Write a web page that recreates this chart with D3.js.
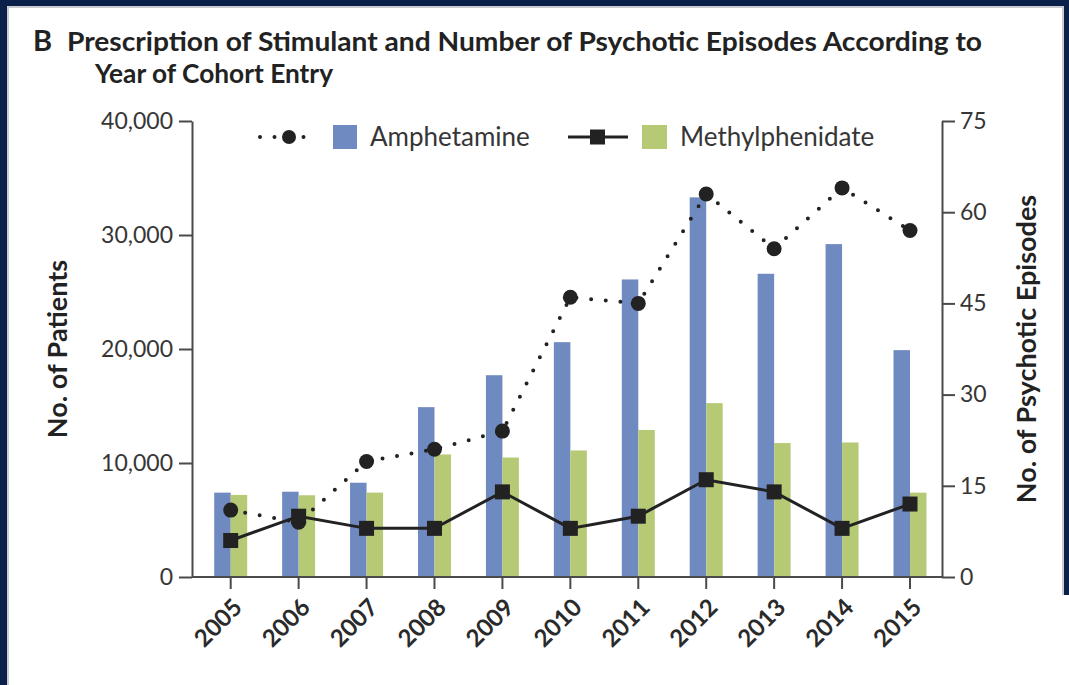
<!DOCTYPE html>
<html>
<head>
<meta charset="utf-8">
<script src="https://cdn.jsdelivr.net/npm/d3@7"></script>
<style>
  body { margin: 0; background: #fff; }
  svg { display: block; }
  text { font-family: Lato, "Open Sans", sans-serif; }
</style>
</head>
<body>
<svg id="chart" width="1069" height="685"></svg>
<script>
// Year of cohort entry
const years = ["2005", "2006", "2007", "2008", "2009", "2010", "2011", "2012", "2013", "2014", "2015"];

// Patients prescribed each stimulant (left axis)
const amphetaminePatients     = [7400, 7480, 8270, 14900, 17700, 20600, 26100, 33300, 26600, 29200, 19900];
const methylphenidatePatients = [7200, 7170, 7400, 10750, 10480, 11100, 12900, 15250, 11750, 11800, 7400];

// Psychotic episodes (right axis)
const amphetamineEpisodes     = [11, 9, 19, 21, 24, 46, 45, 63, 54, 64, 57];
const methylphenidateEpisodes = [6, 10, 8, 8, 14, 8, 10, 16, 14, 8, 12];

// Axis ticks
const patientTicks = [0, 10000, 20000, 30000, 40000];
const episodeTicks = [0, 15, 30, 45, 60, 75];

const titleLines = [
  "Prescription of Stimulant and Number of Psychotic Episodes According to",
  "Year of Cohort Entry"
];
const seriesNames = ["Amphetamine", "Methylphenidate"];

const colors = { amph: "#6f89c1", meth: "#b6ca76", ink: "#222222", axis: "#4a4a4a", label: "#363636", frame: "#0b1f4b" };

const svg = d3.select("#chart");
const W = 1069, H = 685;
const plot = { left: 192, right: 942, top: 121, bottom: 577 };

// Frame around the panel
svg.append("rect").attr("x", 0).attr("y", 0).attr("width", W).attr("height", 6).attr("fill", colors.frame);
svg.append("rect").attr("x", 0).attr("y", 0).attr("width", 7).attr("height", H).attr("fill", colors.frame);
svg.append("rect").attr("x", W - 5).attr("y", 0).attr("width", 5).attr("height", 595).attr("fill", colors.frame);
svg.append("path")
  .attr("d", `M8,${H} V7 H${W - 6} V595`)
  .attr("fill", "none").attr("stroke", "#b9bcc4").attr("stroke-width", 1.5);

// Scales
const x = d3.scalePoint().domain(years).range([230.7, 910]);
const yL = d3.scaleLinear().domain([0, 40000]).range([plot.bottom, plot.top]);
const yR = d3.scaleLinear().domain([0, 75]).range([plot.bottom, plot.top]);
const barW = 16.5;

// Title
svg.append("text").attr("x", 33).attr("y", 51)
  .attr("font-size", 29).attr("font-weight", 700).attr("fill", colors.ink).text("B");
svg.append("text").attr("x", 67).attr("y", 51)
  .attr("font-size", 27).attr("font-weight", 700).attr("fill", colors.ink)
  .attr("textLength", 915).attr("lengthAdjust", "spacingAndGlyphs")
  .text(titleLines[0]);
svg.append("text").attr("x", 95).attr("y", 83)
  .attr("font-size", 27).attr("font-weight", 700).attr("fill", colors.ink)
  .attr("textLength", 238).attr("lengthAdjust", "spacingAndGlyphs")
  .text(titleLines[1]);

// Bars
const bars = svg.append("g");
bars.selectAll("rect.amph").data(years).join("rect")
  .attr("class", "amph")
  .attr("x", d => x(d) - barW)
  .attr("y", (d, i) => yL(amphetaminePatients[i]))
  .attr("width", barW)
  .attr("height", (d, i) => yL(0) - yL(amphetaminePatients[i]))
  .attr("fill", colors.amph);
bars.selectAll("rect.meth").data(years).join("rect")
  .attr("class", "meth")
  .attr("x", d => x(d))
  .attr("y", (d, i) => yL(methylphenidatePatients[i]))
  .attr("width", barW)
  .attr("height", (d, i) => yL(0) - yL(methylphenidatePatients[i]))
  .attr("fill", colors.meth);

// Axes
function styleAxis(g) {
  g.selectAll("path, line").attr("stroke", colors.axis).attr("stroke-width", 2);
  g.selectAll("text").attr("fill", colors.label).attr("font-size", 23)
    .attr("font-family", "Lato, 'Open Sans', sans-serif");
}

svg.append("g").attr("transform", `translate(${plot.left},0)`)
  .call(d3.axisLeft(yL).tickValues(patientTicks).tickFormat(d3.format(",")).tickSize(13).tickSizeOuter(0).tickPadding(6))
  .call(styleAxis);

svg.append("g").attr("transform", `translate(${plot.right},0)`)
  .call(d3.axisRight(yR).tickValues(episodeTicks).tickSize(13).tickSizeOuter(0).tickPadding(5))
  .call(styleAxis);

// Baseline between the two vertical axes, with year ticks
const bottomAxis = svg.append("g").attr("transform", `translate(0,${plot.bottom})`);
bottomAxis.append("line")
  .attr("x1", plot.left).attr("x2", plot.right)
  .attr("stroke", colors.axis).attr("stroke-width", 2);
bottomAxis.selectAll("line.tick").data(years).join("line")
  .attr("class", "tick")
  .attr("x1", d => x(d)).attr("x2", d => x(d))
  .attr("y1", 0).attr("y2", 12)
  .attr("stroke", colors.axis).attr("stroke-width", 2);
bottomAxis.selectAll("text").data(years).join("text")
  .attr("transform", d => `translate(${x(d) + 13},32) rotate(-45)`)
  .attr("text-anchor", "end")
  .attr("font-size", 24).attr("font-weight", 700).attr("fill", "#2a2a2a")
  .text(d => d);

// Axis titles
svg.append("text")
  .attr("transform", `translate(67,${(plot.top + plot.bottom) / 2}) rotate(-90)`)
  .attr("text-anchor", "middle")
  .attr("font-size", 27).attr("font-weight", 700).attr("fill", colors.ink)
  .text("No. of Patients");
svg.append("text")
  .attr("transform", `translate(1036,${(plot.top + plot.bottom) / 2}) rotate(-90)`)
  .attr("text-anchor", "middle")
  .attr("font-size", 27).attr("font-weight", 700).attr("fill", colors.ink)
  .text("No. of Psychotic Episodes");

// Episode lines
const line = d3.line().x(d => x(d[0])).y(d => yR(d[1]));
const amphPts = years.map((d, i) => [d, amphetamineEpisodes[i]]);
const methPts = years.map((d, i) => [d, methylphenidateEpisodes[i]]);

svg.append("path").datum(amphPts).attr("d", line)
  .attr("fill", "none").attr("stroke", colors.ink).attr("stroke-width", 4)
  .attr("stroke-linecap", "round").attr("stroke-dasharray", "0,14.7");
svg.append("path").datum(methPts).attr("d", line)
  .attr("fill", "none").attr("stroke", colors.ink).attr("stroke-width", 3);

svg.append("g").selectAll("circle").data(amphPts).join("circle")
  .attr("cx", d => x(d[0])).attr("cy", d => yR(d[1])).attr("r", 7.5)
  .attr("fill", colors.ink);
const sq = 15;
svg.append("g").selectAll("rect").data(methPts).join("rect")
  .attr("x", d => x(d[0]) - sq / 2).attr("y", d => yR(d[1]) - sq / 2)
  .attr("width", sq).attr("height", sq)
  .attr("fill", colors.ink);

// Legend
const lg = svg.append("g").attr("transform", "translate(0,137)");
lg.append("line").attr("x1", 260).attr("x2", 318)
  .attr("stroke", colors.ink).attr("stroke-width", 4)
  .attr("stroke-linecap", "round").attr("stroke-dasharray", "0,14.5");
lg.append("circle").attr("cx", 289).attr("cy", 0).attr("r", 7).attr("fill", colors.ink);
lg.append("rect").attr("x", 333).attr("y", -12).attr("width", 24).attr("height", 24).attr("fill", colors.amph);
lg.append("text").attr("x", 370).attr("y", 9).attr("font-size", 26).attr("fill", colors.label).text(seriesNames[0]);

lg.append("line").attr("x1", 568).attr("x2", 628)
  .attr("stroke", colors.ink).attr("stroke-width", 3);
lg.append("rect").attr("x", 590).attr("y", -7.5).attr("width", 15).attr("height", 15).attr("fill", colors.ink);
lg.append("rect").attr("x", 642).attr("y", -12).attr("width", 25).attr("height", 24).attr("fill", colors.meth);
lg.append("text").attr("x", 680).attr("y", 9).attr("font-size", 26).attr("fill", colors.label).text(seriesNames[1]);
</script>
</body>
</html>
